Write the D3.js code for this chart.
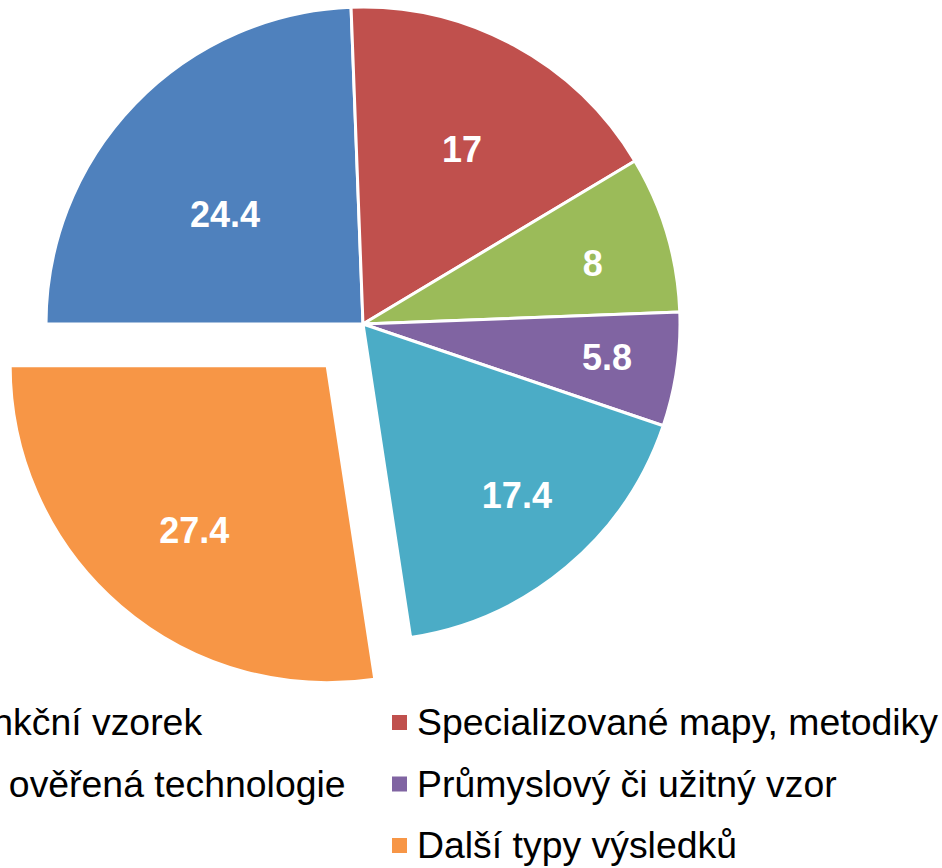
<!DOCTYPE html>
<html>
<head>
<meta charset="utf-8">
<script src="https://cdn.jsdelivr.net/npm/d3@7"></script>
<style>
  html, body { margin: 0; padding: 0; background: #fff; overflow: hidden; }
  svg { display: block; }
</style>
</head>
<body>
<svg id="chart" width="942" height="868"></svg>
<script>
// ---- data ----
const categories = [
  "Prototyp, funkční vzorek",
  "Specializované mapy, metodiky",
  "Poloprovoz, ověřená technologie",
  "Průmyslový či užitný vzor",
  "Software",
  "Další typy výsledků"
];
const values = [24.4, 17, 8, 5.8, 17.4, 27.4];
const valueLabels = ["24.4", "17", "8", "5.8", "17.4", "27.4"];
const colors = ["#4F81BD", "#C0504D", "#9BBB59", "#8064A2", "#4BACC6", "#F79646"];
const exploded = [false, false, false, false, false, true];

// ---- layout (style) ----
const W = 942, H = 868;
const cx = 363, cy = 324, R = 317;
const explodeDist = 55;
const labelRadiusFactor = [0.557, 0.634, 0.75, 0.777, 0.726, 0.666];
const labelAngleShift = [-5.3, 1.1, 1.7, -0.6, -2.0, -1.7]; // degrees, best-fit nudges
const labelFont = 36;
const legendFont = 37.4;

const svg = d3.select("#chart");
const data = categories.map((c, i) => ({ name: c, value: values[i], label: valueLabels[i], color: colors[i], exploded: exploded[i] }));

const pie = d3.pie().sort(null).value(d => d.value)
  .startAngle(-Math.PI / 2).endAngle(1.5 * Math.PI);
const arcs = pie(data);
const arc = d3.arc().innerRadius(0).outerRadius(R);

const g = svg.append("g").attr("transform", `translate(${cx},${cy})`);

const slice = g.selectAll("g.slice").data(arcs).enter().append("g")
  .attr("class", "slice")
  .attr("transform", d => {
    if (!d.data.exploded) return null;
    const a = (d.startAngle + d.endAngle) / 2;
    return `translate(${Math.sin(a) * explodeDist},${-Math.cos(a) * explodeDist})`;
  });

slice.append("path")
  .attr("d", arc)
  .attr("fill", d => d.data.color)
  .attr("stroke", "#fff")
  .attr("stroke-width", 3)
  .attr("stroke-linejoin", "round");

slice.append("text")
  .attr("transform", (d, i) => {
    const a = (d.startAngle + d.endAngle) / 2 + labelAngleShift[i] * Math.PI / 180;
    const r = R * labelRadiusFactor[i];
    return `translate(${Math.sin(a) * r},${-Math.cos(a) * r})`;
  })
  .attr("text-anchor", "middle")
  .attr("dy", (0.358 * labelFont) + "px")
  .attr("font-family", "'Liberation Sans', Arial, sans-serif")
  .attr("font-weight", "bold")
  .attr("font-size", labelFont + "px")
  .attr("fill", "#fff")
  .text(d => d.data.label);

// ---- legend (2 columns, row-wise) ----
const legendCol0TextX = -199;
const colStep = 616;
const rowBase = 735, rowStep = 61.5;
const markerSize = 15;

const legend = svg.append("g").attr("class", "legend");
data.forEach((d, i) => {
  const col = i % 2, row = Math.floor(i / 2);
  const tx = legendCol0TextX + col * colStep;
  const by = rowBase + row * rowStep;
  legend.append("rect")
    .attr("x", tx - 25)
    .attr("y", by - 20)
    .attr("width", markerSize)
    .attr("height", markerSize)
    .attr("fill", d.color);
  legend.append("text")
    .attr("x", tx)
    .attr("y", by)
    .attr("font-family", "'Liberation Sans', Arial, sans-serif")
    .attr("font-size", legendFont + "px")
    .attr("fill", "#000")
    .text(d.name);
});
</script>
</body>
</html>
